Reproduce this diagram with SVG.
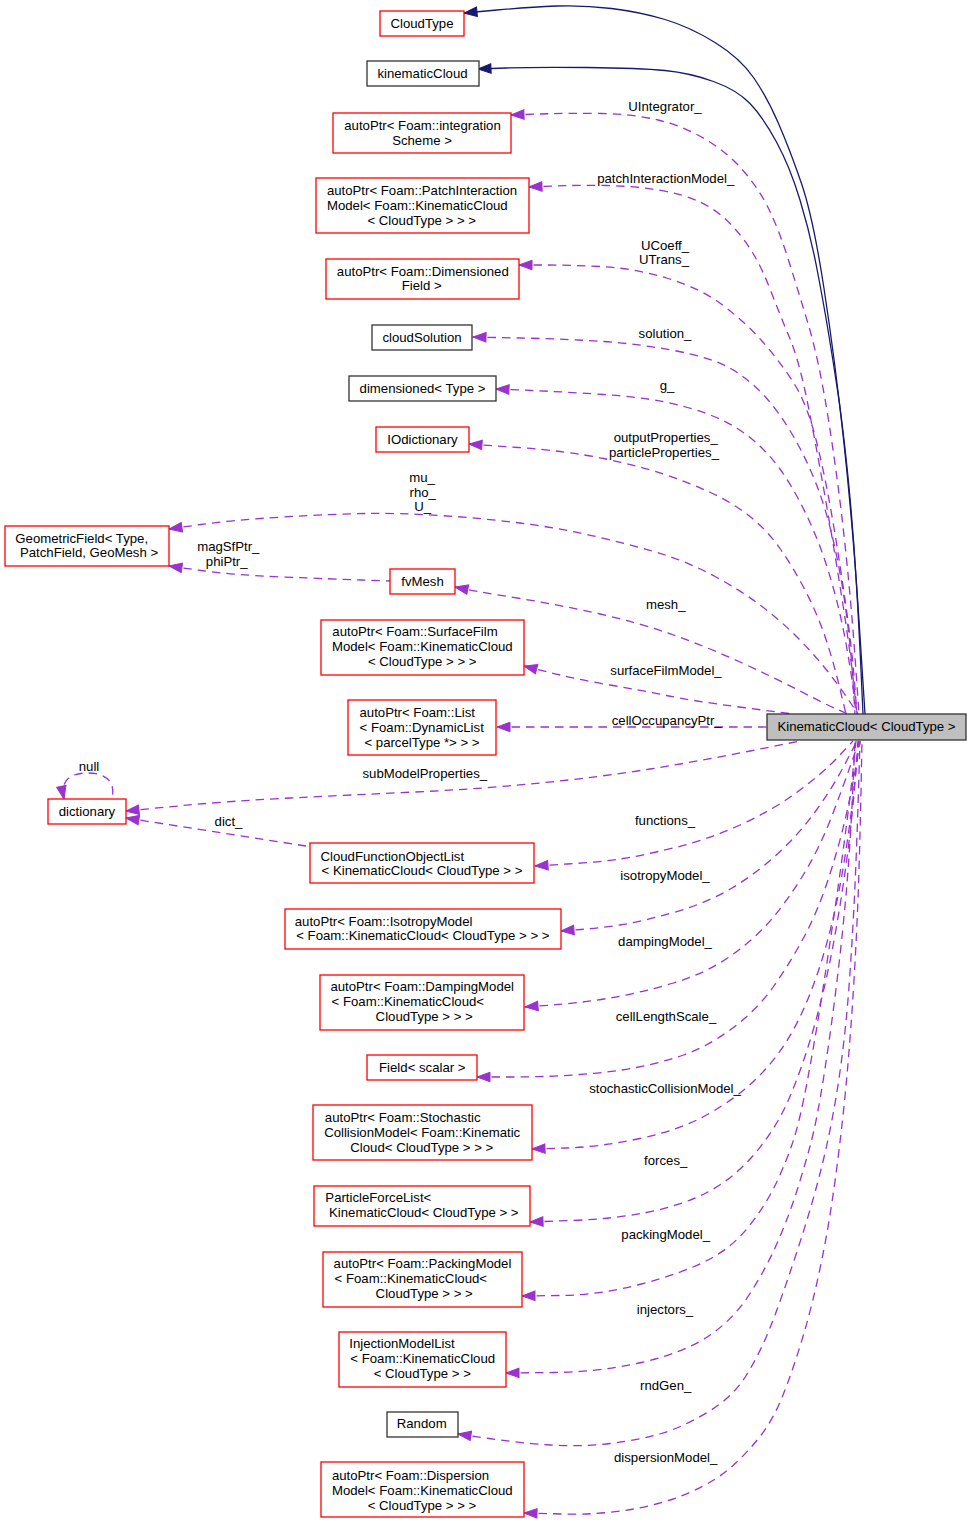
<svg xmlns="http://www.w3.org/2000/svg" width="972" height="1524" viewBox="0 0 972 1524">
<style>
text{font-family:"Liberation Sans",Arial,Helvetica,sans-serif;font-size:13.2px;fill:#000;text-anchor:middle}
.n rect{fill:#fff;stroke:#ff0000;stroke-width:1.3}
.k rect{fill:#fff;stroke:#333;stroke-width:1.3}
.m rect{fill:#bfbfbf;stroke:#333;stroke-width:1.3}
.e{fill:none;stroke:#9a32cd;stroke-width:1.3;stroke-dasharray:8.5,6;marker-start:url(#ap)}
.s{fill:none;stroke:#191970;stroke-width:1.3;marker-start:url(#an)}
</style>
<defs>
<marker id="ap" markerUnits="userSpaceOnUse" markerWidth="14" markerHeight="10" refX="13" refY="4.75" orient="auto-start-reverse" overflow="visible"><polygon points="0,0 13,4.75 0,9.5" fill="#9a32cd" stroke="#9a32cd" stroke-width="1"/></marker>
<marker id="an" markerUnits="userSpaceOnUse" markerWidth="14" markerHeight="10" refX="13" refY="4.75" orient="auto-start-reverse" overflow="visible"><polygon points="0,0 13,4.75 0,9.5" fill="#191970" stroke="#191970" stroke-width="1"/></marker>
</defs>
<rect x="0" y="0" width="972" height="1524" fill="#fff"/>
<g id="edges">
<path class="s" d="M464,13 L497,10 Q530,7 556.5,6 Q583,5 611.5,8.5 Q640,12 665,19.5 Q690,27 715,42.5 Q740,58 753.5,77.5 Q767,97 778.5,123.5 Q790,150 801.5,183.5 Q813,217 824,288.5 Q835,360 844,443.5 Q853,527 859,620.5 L865,714"/>
<path class="s" d="M478,69 L505.5,68 Q533,67 586.5,67.5 Q640,68 665,70.5 Q690,73 713.5,81.5 Q737,90 750,103.5 Q763,117 776.5,142 Q790,167 800,200 Q810,233 816.5,266.5 Q823,300 828,330 Q833,360 838,393.5 Q843,427 848,477 Q853,527 856,577 Q859,627 861,670.5 L863,714"/>
<path class="e" d="M511,115 L540.5,114 Q570,113 601.5,113.5 Q633,114 658,120 Q683,126 705,139 Q727,152 743.5,171 Q760,190 770,211.5 Q780,233 788.5,260 Q797,287 808,323.5 Q819,360 828.5,420 Q838,480 844.5,540 Q851,600 855,657 L859,714"/>
<path class="e" d="M529,187 L554.5,186 Q580,185 606.5,185.5 Q633,186 658,190 Q683,194 700,202 Q717,210 730,223.5 Q743,237 752.5,252.5 Q762,268 771,291.5 Q780,315 789.5,337.5 Q799,360 808,405 Q817,450 826.5,505 Q836,560 843,605 Q850,650 853.5,682 L857,714"/>
<path class="e" d="M519,265 L543,265 Q567,265 600,266.5 Q633,268 666.5,278 Q700,288 722.5,305 Q745,322 761.5,340.5 Q778,359 792.5,381 Q807,403 816.5,441.5 Q826,480 833.5,525 Q841,570 846.5,610 Q852,650 854.5,682 L857,714"/>
<path class="e" d="M473,337 L520,338 Q567,339 603.5,341.5 Q640,344 676.5,351 Q713,358 731.5,369 Q750,380 765,396.5 Q780,413 793.5,436.5 Q807,460 817,486 Q827,512 834.5,546 Q842,580 846.5,615 Q851,650 853,682 L855,714"/>
<path class="e" d="M496,389 L531.5,390.5 Q567,392 603.5,394.5 Q640,397 665,402 Q690,407 711.5,415.5 Q733,424 750,437.5 Q767,451 780,469 Q793,487 806.5,515 Q820,543 830,576.5 Q840,610 846,643.5 Q852,677 854,695.5 L856,714"/>
<path class="e" d="M469,444 L518,447.5 Q567,451 603.5,458.5 Q640,466 665,474.5 Q690,483 711.5,493 Q733,503 750,516.5 Q767,530 780,548.5 Q793,567 805,590 Q817,613 825,636.5 Q833,660 839.5,687 L846,714"/>
<path class="e" d="M169,529 L201,524.5 Q233,520 283,517 Q333,514 366.5,513.5 Q400,513 440,515.5 Q480,518 520,523 Q560,528 600,537.5 Q640,547 665,555 Q690,563 715,576.5 Q740,590 760,605 Q780,620 796.5,636.5 Q813,653 826.5,670 Q840,687 849,700.5 L858,714"/>
<path class="e" d="M169,566 L201,570.5 Q233,575 283,577 Q333,579 361.5,580 L390,581"/>
<path class="e" d="M455,587 L467.5,589.5 Q480,592 520,598.5 Q560,605 600,614 Q640,623 673.5,635 Q707,647 740,662 Q773,677 800,691 Q827,705 837.5,709.5 L848,714"/>
<path class="e" d="M524,666 L552,673 Q580,680 610,685 Q640,690 666.5,695.5 Q693,701 743,707.5 L793,714"/>
<path class="e" d="M497,727 L767,727"/>
<path class="e" d="M126,811 L178,806 Q230,801 290,798 Q350,795 415,792 Q480,789 540,783 Q600,777 650,769 Q700,761 750,751 L800,741"/>
<path class="e" d="M126,818 L306,846"/>
<path class="e" d="M64,799 C60,780 70,773 88,773 C106,773 116,782 112,799"/>
<path class="e" d="M535,866 L567.5,864 Q600,862 620,859 Q640,856 673.5,848 Q707,840 740,825 Q773,810 798,791.5 Q823,773 838,757 L853,741"/>
<path class="e" d="M561,931 L580.5,929.5 Q600,928 620,925 Q640,922 673.5,912.5 Q707,903 732,888 Q757,873 778.5,853 Q800,833 816.5,810 Q833,787 845,764 L857,741"/>
<path class="e" d="M525,1007 L552.5,1005 Q580,1003 610,998 Q640,993 673.5,983 Q707,973 732,955 Q757,937 773.5,917 Q790,897 805,872 Q820,847 831.5,817 Q843,787 851,764 L859,741"/>
<path class="e" d="M477,1077 L512,1077 Q547,1077 580,1074.5 Q613,1072 636.5,1067.5 Q660,1063 683.5,1055 Q707,1047 732,1028.5 Q757,1010 773.5,986.5 Q790,963 803.5,938 Q817,913 827.5,881.5 Q838,850 845,820 Q852,790 856,765.5 L860,741"/>
<path class="e" d="M532,1149 L566,1148 Q600,1147 640,1138.5 Q680,1130 707.5,1114.5 Q735,1099 754,1081 Q773,1063 786.5,1041.5 Q800,1020 811.5,990 Q823,960 831.5,925 Q840,890 846,850 Q852,810 855.5,775.5 L859,741"/>
<path class="e" d="M530,1222 L571.5,1220.5 Q613,1219 646.5,1212.5 Q680,1206 706,1193 Q732,1180 754.5,1154 Q777,1128 791,1094 Q805,1060 816,1020 Q827,980 835,935 Q843,890 848,850 Q853,810 855.5,775.5 L858,741"/>
<path class="e" d="M522,1296 L561,1295.5 Q600,1295 641.5,1284 Q683,1273 708,1260 Q733,1247 750,1225 Q767,1203 777,1181.5 Q787,1160 793.5,1140 Q800,1120 807.5,1080 Q815,1040 822,995 Q829,950 835.5,905 Q842,860 846.5,825 Q851,790 853.5,765.5 L856,741"/>
<path class="e" d="M506,1373 L553,1372.5 Q600,1372 641.5,1362.5 Q683,1353 708,1336.5 Q733,1320 750,1293.5 Q767,1267 778.5,1240 Q790,1213 797.5,1189 Q805,1165 811,1142.5 Q817,1120 824,1075 Q831,1030 836.5,985 Q842,940 846,895 Q850,850 852.5,795.5 L855,741"/>
<path class="e" d="M458,1434 L489,1438.5 Q520,1443 550,1445 Q580,1447 610,1443.5 Q640,1440 661.5,1433.5 Q683,1427 708,1412 Q733,1397 746.5,1375 Q760,1353 770,1328 Q780,1303 796.5,1253 Q813,1203 823,1161.5 Q833,1120 839.5,1075 Q846,1030 849.5,980 Q853,930 855,885 Q857,840 858.5,790.5 L860,741"/>
<path class="e" d="M524,1513 L562,1514 Q600,1515 633.5,1509 Q667,1503 692,1491.5 Q717,1480 732,1466.5 Q747,1453 760,1436.5 Q773,1420 783,1395 Q793,1370 803,1336.5 Q813,1303 821.5,1261.5 Q830,1220 836.5,1170 Q843,1120 847,1075 Q851,1030 854,980 Q857,930 858.5,885 Q860,840 861,790.5 L862,741"/>
</g>
<g id="edge-labels">
<text x="665" y="110.6">UIntegrator_</text>
<text x="665.7" y="182.9">patchInteractionModel_</text>
<text x="665" y="249.6">UCoeff_</text>
<text x="664" y="264">UTrans_</text>
<text x="665" y="337.9">solution_</text>
<text x="667" y="390">g_</text>
<text x="665.7" y="441.9">outputProperties_</text>
<text x="664" y="456.6">particleProperties_</text>
<text x="422" y="481.6">mu_</text>
<text x="422.7" y="496.6">rho_</text>
<text x="422.7" y="510.6">U_</text>
<text x="228.3" y="550.6">magSfPtr_</text>
<text x="226.7" y="565.6">phiPtr_</text>
<text x="665.7" y="608.9">mesh_</text>
<text x="666" y="674.6">surfaceFilmModel_</text>
<text x="666.7" y="724.6">cellOccupancyPtr_</text>
<text x="89" y="770.6">null</text>
<text x="424.8" y="777.9">subModelProperties_</text>
<text x="228.5" y="825.6">dict_</text>
<text x="665" y="824.6">functions_</text>
<text x="665" y="879.6">isotropyModel_</text>
<text x="665" y="945.6">dampingModel_</text>
<text x="666" y="1020.6">cellLengthScale_</text>
<text x="665" y="1092.9">stochasticCollisionModel_</text>
<text x="665.7" y="1165.3">forces_</text>
<text x="665.7" y="1238.6">packingModel_</text>
<text x="665" y="1313.6">injectors_</text>
<text x="665.7" y="1390.3">rndGen_</text>
<text x="665.7" y="1462.3">dispersionModel_</text>
</g>
<g id="n_CloudType" class="n"><rect x="380" y="11" width="84" height="25"/><text x="422" y="27.5">CloudType</text></g>
<g id="n_kinematicCloud" class="k"><rect x="367" y="61" width="112" height="25"/><text x="422.5" y="78">kinematicCloud</text></g>
<g id="n_integrationScheme" class="n"><rect x="333" y="113" width="178" height="40"/><text x="422.5" y="129.6">autoPtr&lt; Foam::integration</text><text x="422" y="144.6">Scheme &gt;</text></g>
<g id="n_patchInteraction" class="n"><rect x="316" y="178" width="213" height="55"/><text x="422" y="195.3">autoPtr&lt; Foam::PatchInteraction</text><text x="417.3" y="210.3">Model&lt; Foam::KinematicCloud</text><text x="421.7" y="224.6">&lt; CloudType &gt; &gt; &gt;</text></g>
<g id="n_dimensionedField" class="n"><rect x="326" y="259" width="193" height="40"/><text x="422.8" y="276.3">autoPtr&lt; Foam::Dimensioned</text><text x="421.7" y="290.3">Field &gt;</text></g>
<g id="n_cloudSolution" class="k"><rect x="372" y="325" width="100" height="25"/><text x="422" y="342.3">cloudSolution</text></g>
<g id="n_dimensioned" class="k"><rect x="349" y="376" width="147" height="25"/><text x="422.5" y="392.6">dimensioned&lt; Type &gt;</text></g>
<g id="n_IOdictionary" class="n"><rect x="376" y="427" width="93" height="25"/><text x="422.5" y="443.6">IOdictionary</text></g>
<g id="n_GeometricField" class="n"><rect x="5" y="526" width="164" height="40"/><text x="81.7" y="542.9">GeometricField&lt; Type,</text><text x="89" y="556.9">PatchField, GeoMesh &gt;</text></g>
<g id="n_fvMesh" class="n"><rect x="390" y="569" width="65" height="25"/><text x="422.5" y="586.3">fvMesh</text></g>
<g id="n_surfaceFilm" class="n"><rect x="321" y="620" width="203" height="55"/><text x="415" y="636.3">autoPtr&lt; Foam::SurfaceFilm</text><text x="422.3" y="651.3">Model&lt; Foam::KinematicCloud</text><text x="422.2" y="666.3">&lt; CloudType &gt; &gt; &gt;</text></g>
<g id="n_cellOccupancy" class="n"><rect x="348" y="700" width="148" height="55"/><text x="417.2" y="716.6">autoPtr&lt; Foam::List</text><text x="421.7" y="731.6">&lt; Foam::DynamicList</text><text x="422" y="746.6">&lt; parcelType *&gt; &gt; &gt;</text></g>
<g id="n_KinematicCloud" class="m"><rect x="767" y="714" width="199" height="26"/><text x="866.5" y="731.3">KinematicCloud&lt; CloudType &gt;</text></g>
<g id="n_dictionary" class="n"><rect x="48" y="799" width="78" height="25"/><text x="87" y="815.6">dictionary</text></g>
<g id="n_CloudFunctionObjectList" class="n"><rect x="310" y="843" width="224" height="40"/><text x="392.3" y="860.6">CloudFunctionObjectList</text><text x="422" y="874.6">&lt; KinematicCloud&lt; CloudType &gt; &gt;</text></g>
<g id="n_isotropy" class="n"><rect x="285" y="909" width="276" height="40"/><text x="383.6" y="925.6">autoPtr&lt; Foam::IsotropyModel</text><text x="422.9" y="940.3">&lt; Foam::KinematicCloud&lt; CloudType &gt; &gt; &gt;</text></g>
<g id="n_damping" class="n"><rect x="320" y="975" width="204" height="55"/><text x="422.2" y="991.3">autoPtr&lt; Foam::DampingModel</text><text x="407.8" y="1006.3">&lt; Foam::KinematicCloud&lt;</text><text x="424.2" y="1021.3">CloudType &gt; &gt; &gt;</text></g>
<g id="n_fieldScalar" class="n"><rect x="367" y="1055" width="110" height="25"/><text x="422.3" y="1071.6">Field&lt; scalar &gt;</text></g>
<g id="n_stochastic" class="n"><rect x="313" y="1105" width="219" height="55"/><text x="402.7" y="1121.9">autoPtr&lt; Foam::Stochastic</text><text x="422.2" y="1136.6">CollisionModel&lt; Foam::Kinematic</text><text x="421.8" y="1151.9">Cloud&lt; CloudType &gt; &gt; &gt;</text></g>
<g id="n_particleForceList" class="n"><rect x="314" y="1186" width="216" height="40"/><text x="378.3" y="1202.3">ParticleForceList&lt;</text><text x="423.8" y="1217.3">KinematicCloud&lt; CloudType &gt; &gt;</text></g>
<g id="n_packing" class="n"><rect x="323" y="1252" width="199" height="55"/><text x="422.5" y="1267.9">autoPtr&lt; Foam::PackingModel</text><text x="410.8" y="1282.9">&lt; Foam::KinematicCloud&lt;</text><text x="424.2" y="1297.9">CloudType &gt; &gt; &gt;</text></g>
<g id="n_injection" class="n"><rect x="339" y="1332" width="167" height="55"/><text x="402" y="1347.9">InjectionModelList</text><text x="422.7" y="1362.9">&lt; Foam::KinematicCloud</text><text x="422.3" y="1377.9">&lt; CloudType &gt; &gt;</text></g>
<g id="n_Random" class="k"><rect x="387" y="1412" width="71" height="25"/><text x="421.7" y="1427.9">Random</text></g>
<g id="n_dispersion" class="n"><rect x="321" y="1462" width="203" height="55"/><text x="410.5" y="1479.6">autoPtr&lt; Foam::Dispersion</text><text x="422.3" y="1494.6">Model&lt; Foam::KinematicCloud</text><text x="422" y="1509.6">&lt; CloudType &gt; &gt; &gt;</text></g>
</svg>
